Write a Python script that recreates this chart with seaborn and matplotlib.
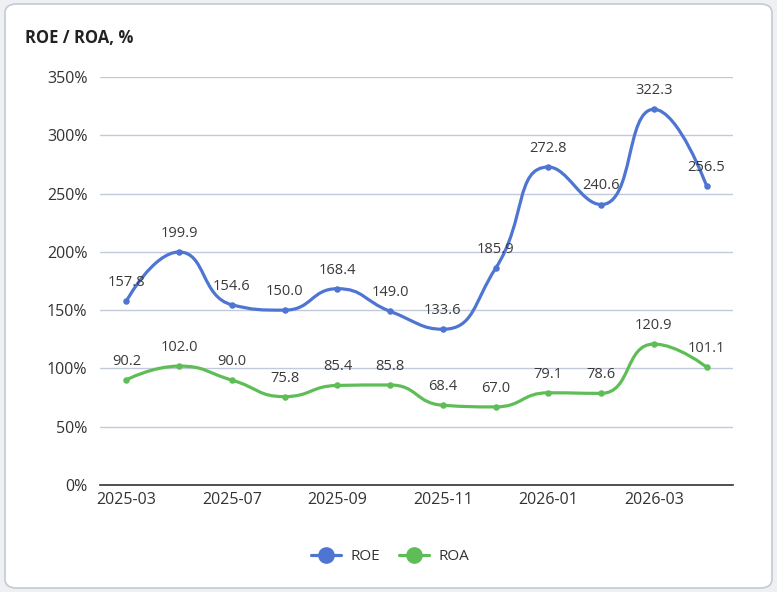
import numpy as np
import pandas as pd
import matplotlib
matplotlib.use("Agg")
import matplotlib.pyplot as plt
import seaborn as sns
from matplotlib.path import Path
from matplotlib.patches import PathPatch, FancyBboxPatch
from matplotlib.lines import Line2D

# ================= DATOS =================
meses = ['2025-03', '2025-06', '2025-07', '2025-08', '2025-09', '2025-10',
         '2025-11', '2025-12', '2026-01', '2026-02', '2026-03', '2026-04']
roe = [157.8, 199.9, 154.6, 150.0, 168.4, 149.0, 133.6, 185.9, 272.8, 240.6, 322.3, 256.5]
roa = [90.2, 102.0, 90.0, 75.8, 85.4, 85.8, 68.4, 67.0, 79.1, 78.6, 120.9, 101.1]
ticks_y = [0, 50, 100, 150, 200, 250, 300, 350]

color_roe = '#4f75d3'
color_roa = '#5fbd57'

df = pd.DataFrame({'mes': meses, 'idx': range(len(meses)), 'ROE': roe, 'ROA': roa})

# ================= FIGURA =================
sns.set_style("white")
plt.rcParams['font.family'] = ['Open Sans', 'DejaVu Sans']

fig = plt.figure(figsize=(7.77, 5.92), dpi=100)
fig.patch.set_facecolor('#eef0f3')
card = FancyBboxPatch((5 / 777, 4 / 592), 767 / 777, 584 / 592,
                      boxstyle="round,pad=0,rounding_size=0.015",
                      transform=fig.transFigure, facecolor='white',
                      edgecolor='#c5cad3', linewidth=1.2, zorder=-10)
fig.patches.append(card)

ax = fig.add_axes([100 / 777, 107 / 592, 633 / 777, 408 / 592])
ax.set_facecolor('none')
ax.set_xlim(-0.5, len(meses) - 0.5)
ax.set_ylim(0, 350)


def curva_suave(ax, xs, ys, smooth=0.5):
    """Bezier tipo echarts (suavizado con restricción), calculado en píxeles."""
    pts = ax.transData.transform(np.column_stack([xs, ys]))
    n = len(pts)
    c_in = [p.copy() for p in pts]
    c_out = [p.copy() for p in pts]
    for i in range(1, n - 1):
        p, prev, nxt = pts[i], pts[i - 1], pts[i + 1]
        v = nxt - prev
        d0 = np.hypot(*(p - prev))
        d1 = np.hypot(*(nxt - p))
        r = d1 / (d0 + d1)
        out = p + v * smooth * r
        out = np.clip(out, np.minimum(p, nxt), np.maximum(p, nxt))
        vec = out - p
        inn = p - vec * d0 / d1
        inn = np.clip(inn, np.minimum(p, prev), np.maximum(p, prev))
        vec = p - inn
        out = p + vec * d1 / d0
        c_in[i], c_out[i] = inn, out
    verts = [pts[0]]
    codes = [Path.MOVETO]
    for i in range(n - 1):
        verts += [c_out[i], c_in[i + 1], pts[i + 1]]
        codes += [Path.CURVE4] * 3
    verts = ax.transData.inverted().transform(np.array(verts))
    return Path(verts, codes)


# líneas suaves
for serie, col in [('ROE', color_roe), ('ROA', color_roa)]:
    path = curva_suave(ax, df['idx'].values, df[serie].values)
    ax.add_patch(PathPatch(path, facecolor='none', edgecolor=col,
                           linewidth=2.3, capstyle='round', zorder=3))
    sns.scatterplot(data=df, x='idx', y=serie, color=col, s=22,
                    edgecolor=col, linewidth=0, ax=ax, zorder=4, legend=False)
    for _, row in df.iterrows():
        ax.annotate(f"{row[serie]:.1f}", (row['idx'], row[serie]),
                    xytext=(0, 8), textcoords='offset points',
                    ha='center', va='bottom', fontsize=10.5, color='#3a3a3a', zorder=5)

# ejes
ax.set_xlim(-0.5, len(meses) - 0.5)
ax.set_ylim(0, 350)
ax.set_yticks(ticks_y)
ax.set_yticklabels([f"{t}%" for t in ticks_y])
ax.set_xticks(df['idx'][::2])
ax.set_xticklabels(df['mes'][::2])
ax.set_xlabel('')
ax.set_ylabel('')
ax.grid(axis='y', color='#c3c9dc', linewidth=1)
ax.grid(axis='x', visible=False)
for s in ['top', 'right', 'left']:
    ax.spines[s].set_visible(False)
ax.spines['bottom'].set_color('#333333')
ax.spines['bottom'].set_linewidth(1.2)
ax.tick_params(axis='both', length=0, labelsize=11.5, colors='#333333')
ax.tick_params(axis='y', pad=9)
ax.tick_params(axis='x', pad=5)

fig.text(25 / 777, 1 - 38 / 592, 'ROE / ROA, %', fontsize=12, fontweight='bold',
         color='#222222', ha='left', va='center')

handles = [Line2D([0], [0], color=color_roe, lw=2.3, marker='o', markersize=11, label='ROE'),
           Line2D([0], [0], color=color_roa, lw=2.3, marker='o', markersize=11, label='ROA')]
fig.legend(handles=handles, loc='center', bbox_to_anchor=(390 / 777, 35 / 592),
           ncol=2, frameon=False, fontsize=11, handlelength=2.0, columnspacing=1.2,
           handletextpad=0.6, labelcolor='#333333')

fig.savefig('out.png', dpi=100, facecolor=fig.get_facecolor())
